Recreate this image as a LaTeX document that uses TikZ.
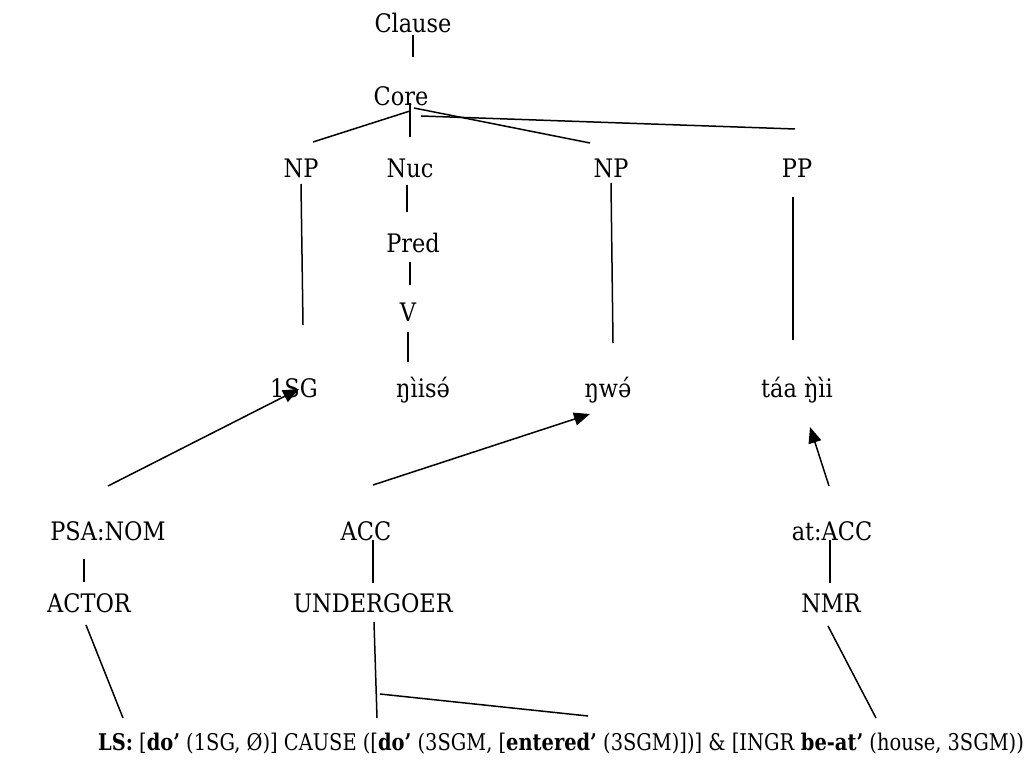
\documentclass[tikz,border=0pt]{standalone}
\usepackage{fontspec}
\newfontfamily\treefont{DejaVu Serif}[FakeStretch=0.88]
\newfontfamily\lsfont{DejaVu Serif}[FakeStretch=0.845]
\usetikzlibrary{arrows.meta}
\begin{document}
\begin{tikzpicture}[x=1pt,y=-1pt,
  lbl/.style={anchor=base,inner sep=0pt,font=\treefont\fontsize{25.5}{28}\selectfont},
  lsline/.style={anchor=base,inner sep=0pt,font=\lsfont\fontsize{23}{26}\selectfont},
  tie/.style={line width=1.5pt},
  link/.style={line width=1.5pt,-{Triangle[length=16pt,width=13pt]}}]
\useasboundingbox[fill=white] (0,0) rectangle (1036,767);

% constituent tree
\node[lbl] (clause) at (413,33) {Clause};
\node[lbl] (core)   at (401,106) {Core};
\node[lbl] (np1)    at (301,178) {NP};
\node[lbl] (nuc)    at (410,178) {Nuc};
\node[lbl] (np2)    at (611,178) {NP};
\node[lbl] (pp)     at (797,178) {PP};
\node[lbl] (pred)   at (413,253) {Pred};
\node[lbl] (v)      at (408,322) {V};
\node[lbl] (sg)     at (294,397) {1SG};
\node[lbl] (verb)   at (423,397) {ŋìisə́};
\node[lbl] (obj)    at (608,397) {ŋwə́};
\node[lbl] (loc)    at (797,397) {táa ŋ̀ìi};

% case and macrorole labels
\node[lbl] (psa)    at (108,540) {PSA:NOM};
\node[lbl] (acc)    at (366,540) {ACC};
\node[lbl] (atacc)  at (832,540) {at:ACC};
\node[lbl] (actor)  at (89,612) {ACTOR};
\node[lbl] (und)    at (373,612) {UNDERGOER};
\node[lbl] (nmr)    at (831,612) {NMR};

% logical structure
\node[lsline] (ls) at (561,750) {\textbf{LS:} [\textbf{do’} (1SG, Ø)] CAUSE ([\textbf{do’} (3SGM, [\textbf{entered’} (3SGM)])] \& [INGR \textbf{be-at’} (house, 3SGM))};

% line ends
\coordinate (c1) at (413,35);   \coordinate (c2) at (413,57);
\coordinate (k0) at (410,103);  \coordinate (k1) at (410,137);
\coordinate (k2) at (410,111);  \coordinate (k3) at (313,142);
\coordinate (k4) at (414,108);  \coordinate (k5) at (590,143);
\coordinate (k6) at (421,116);  \coordinate (k7) at (795,129);
\coordinate (n1) at (301,184);  \coordinate (n2) at (303,325);
\coordinate (u1) at (407,185);  \coordinate (u2) at (407,212);
\coordinate (p1) at (410,262);  \coordinate (p2) at (410,285);
\coordinate (v1) at (408,332);  \coordinate (v2) at (408,362);
\coordinate (m1) at (611,183);  \coordinate (m2) at (613,343);
\coordinate (q1) at (793,197);  \coordinate (q2) at (793,340);
\coordinate (a1) at (108,486);  \coordinate (a2) at (299,389);
\coordinate (b1) at (373,485);  \coordinate (b2) at (590,414);
\coordinate (d1) at (829,486);  \coordinate (d2) at (810,427);
\coordinate (e1) at (84,559);   \coordinate (e2) at (84,582);
\coordinate (f1) at (373,540);  \coordinate (f2) at (373,583);
\coordinate (g1) at (830,540);  \coordinate (g2) at (830,583);
\coordinate (h1) at (86,625);   \coordinate (h2) at (123,718);
\coordinate (i1) at (374,622);  \coordinate (i2) at (377,718);
\coordinate (i3) at (380,694);  \coordinate (i4) at (588,716);
\coordinate (j1) at (828,626);  \coordinate (j2) at (876,718);

\draw[tie] (c1) -- (c2);
\draw[tie] (k0) -- (k1);
\draw[tie] (k2) -- (k3);
\draw[tie] (k4) -- (k5);
\draw[tie] (k6) -- (k7);
\draw[tie] (n1) -- (n2);
\draw[tie] (u1) -- (u2);
\draw[tie] (p1) -- (p2);
\draw[tie] (v1) -- (v2);
\draw[tie] (m1) -- (m2);
\draw[tie] (q1) -- (q2);
\draw[link] (a1) -- (a2);
\draw[link] (b1) -- (b2);
\draw[link] (d1) -- (d2);
\draw[tie] (e1) -- (e2);
\draw[tie] (f1) -- (f2);
\draw[tie] (g1) -- (g2);
\draw[tie] (h1) -- (h2);
\draw[tie] (i1) -- (i2);
\draw[tie] (i3) -- (i4);
\draw[tie] (j1) -- (j2);
\end{tikzpicture}
\end{document}
